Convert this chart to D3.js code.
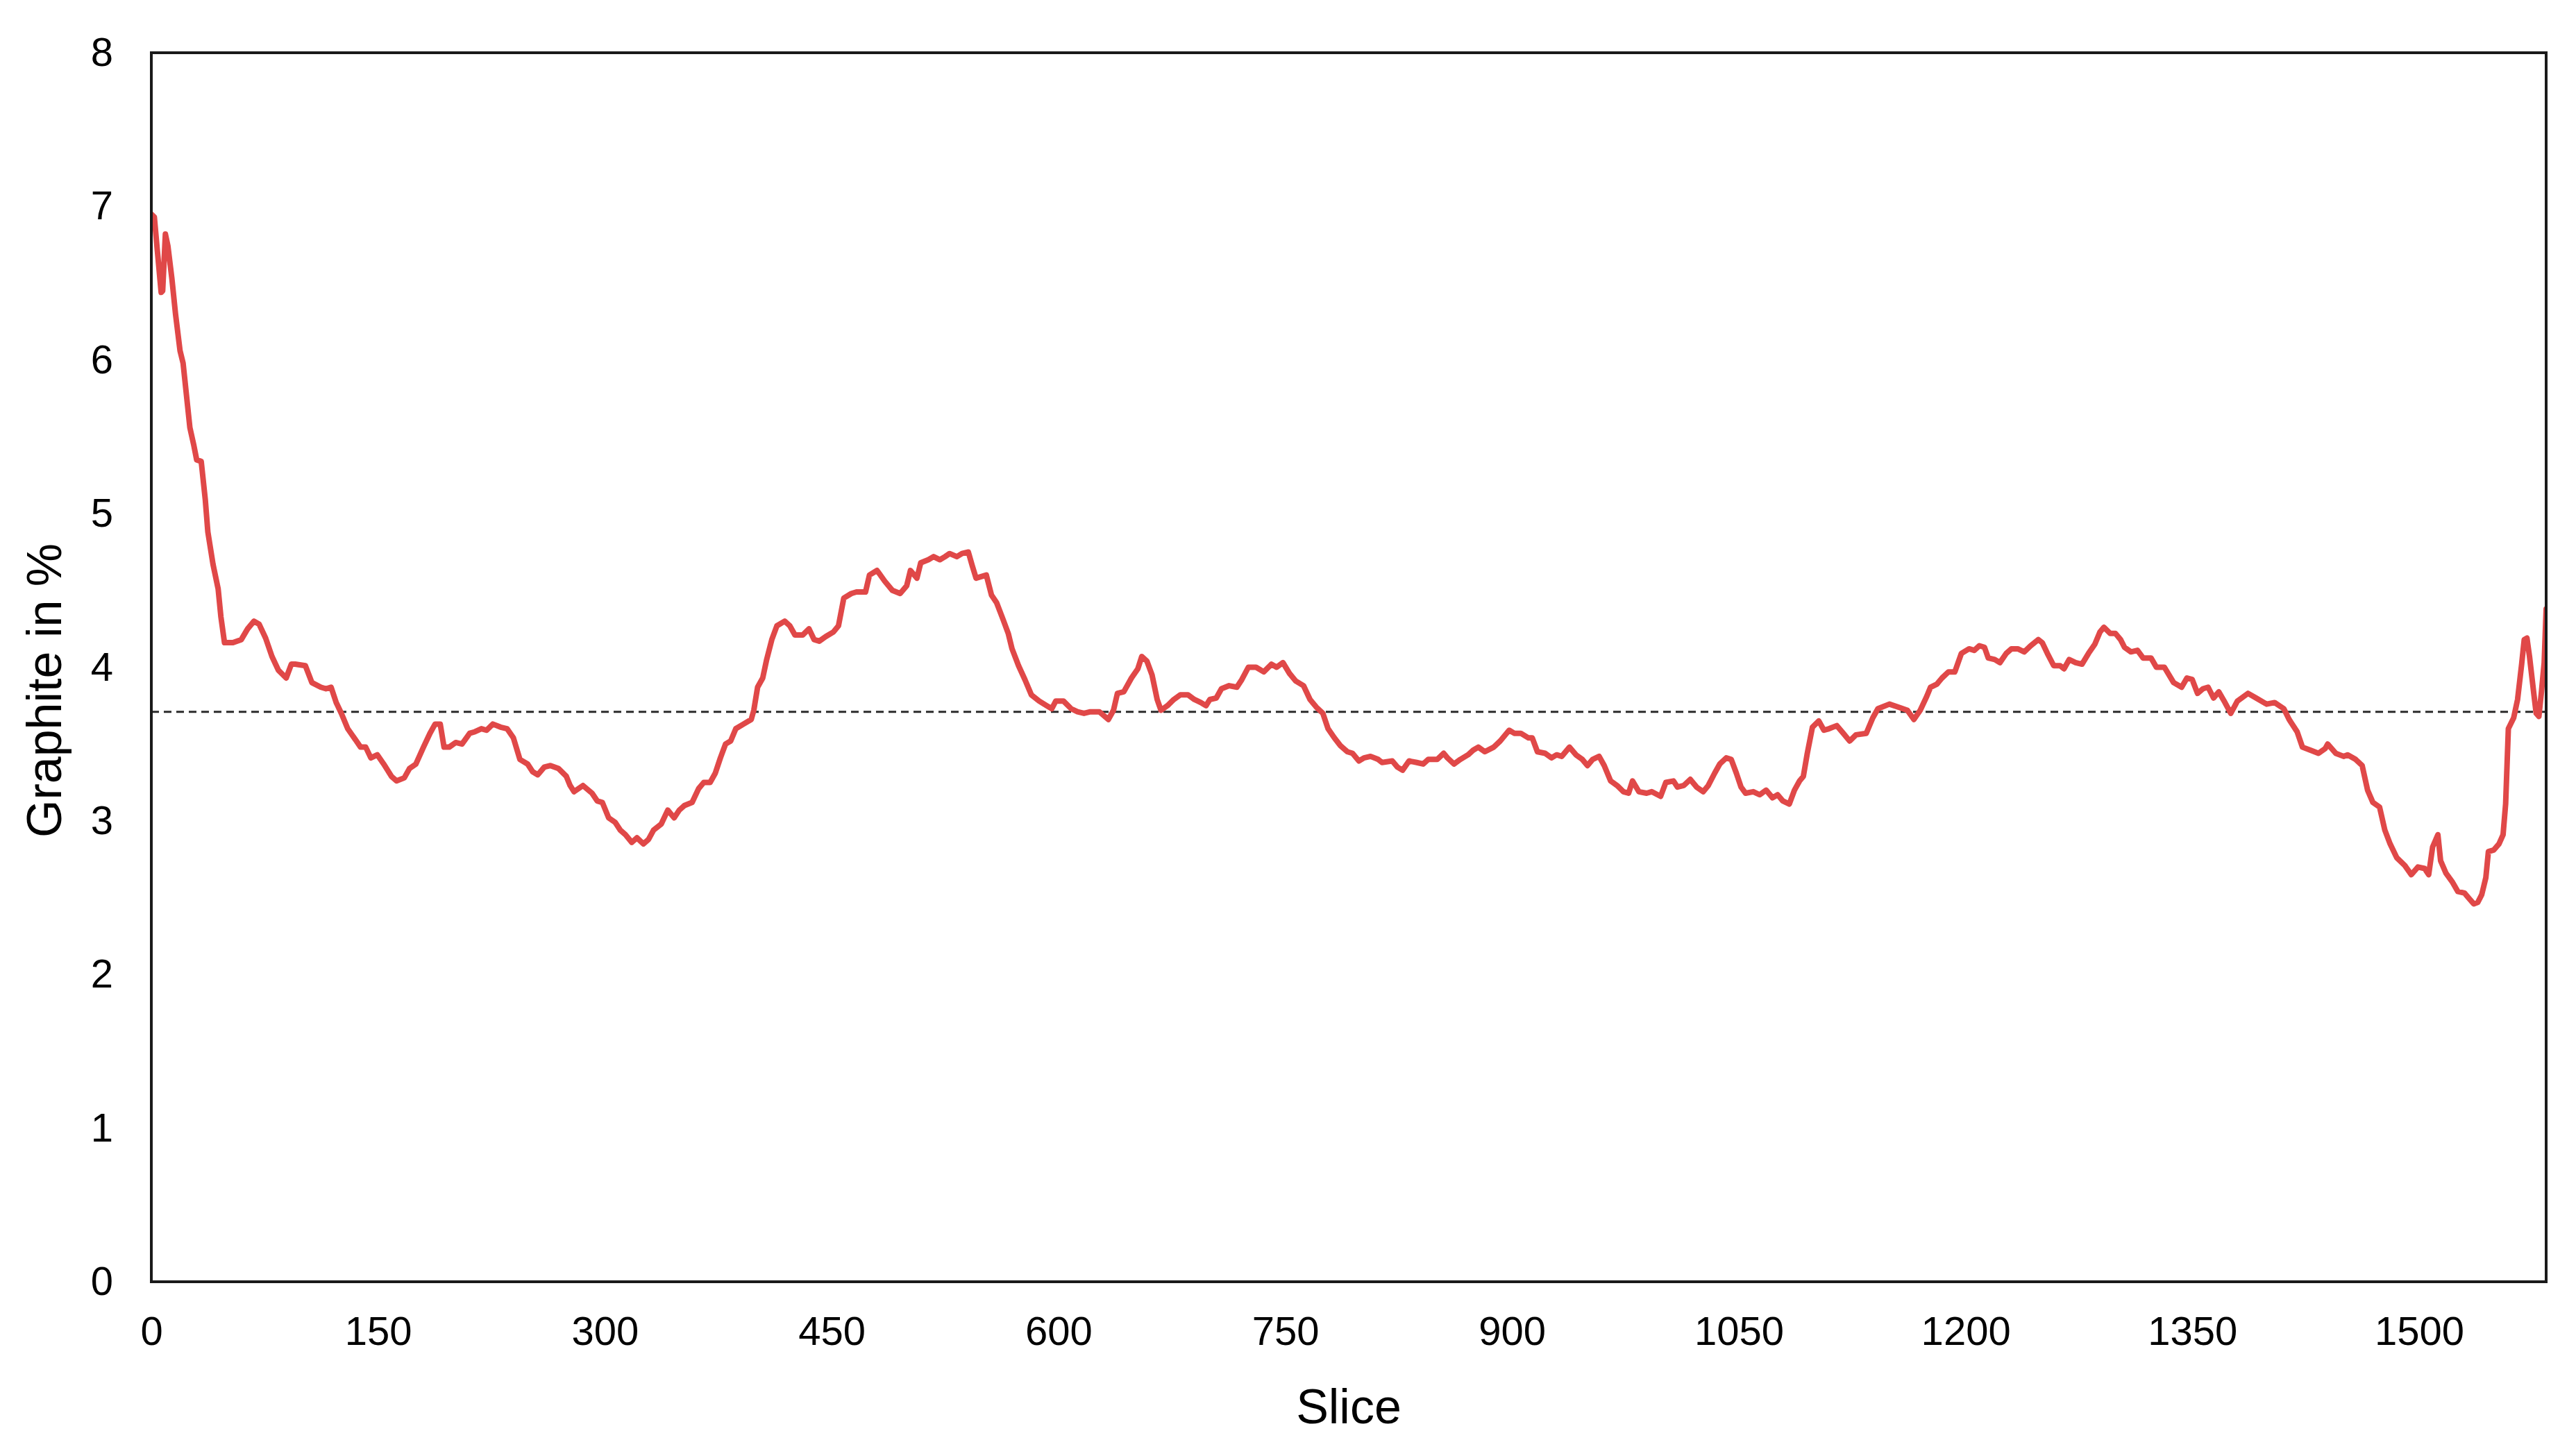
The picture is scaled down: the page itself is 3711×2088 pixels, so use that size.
<!DOCTYPE html>
<html>
<head>
<meta charset="utf-8">
<script src="https://cdn.jsdelivr.net/npm/d3@7"></script>
<style>
  html, body { margin: 0; padding: 0; background: #ffffff; }
  svg { display: block; }
</style>
</head>
<body>
<svg id="chart" width="3711" height="2088"></svg>
<script>
// ---- data ----
const slices = [
  0, 2, 4, 6.5, 7.5, 9.3, 11, 13.6, 16, 19, 21, 24, 25.5, 28, 30, 33, 35.7, 37.4, 40.8, 44.2, 46, 48.4,
  54, 59.5, 63.7, 67.9, 71.3, 75.6, 79.8, 84.1, 89.2, 92.6, 95.1, 101.9, 106.2, 112.1, 115.5, 118.9,
  122.3, 125.7, 129.9, 134.2, 138.4, 141.8, 145.2, 149.5, 153.7, 158.8, 162.2, 167.3, 170.7, 175, 180,
  184.3, 187.7, 191.1, 193.6, 197, 201.3, 205.5, 210.6, 214, 218.3, 221.7, 225.9, 231, 235.3, 239.5,
  243.8, 248.9, 252.2, 255.6, 259.9, 264, 269.4, 274.5, 277, 279.6, 285.5, 291.5, 294.9, 298.3, 302.5,
  306.8, 310.2, 313.6, 317.8, 321.2, 325.5, 328.9, 332.2, 337.3, 341.6, 345.8, 349.2, 352.6, 357.7, 362,
  365.4, 369.6, 373, 376.4, 379.8, 383.2, 386.6, 391.7, 396.8, 398.5, 401, 404.4, 407, 410.4, 413.8,
  418.9, 422.3, 425.7, 430.8, 435, 438.4, 441.8, 446.1, 451.2, 454.5, 458, 463, 466.4, 472.4, 475, 480,
  485.1, 490.2, 495.3, 499.6, 502.1, 506.4, 508.9, 514, 517.4, 521.6, 525, 528, 532.8, 536.2, 540.4, 543,
  545.5, 548.9, 552.3, 555.7, 559.1, 563.4, 566.8, 569.3, 573.6, 577.8, 582.1, 587.2, 592.2, 595.6, 598.2,
  603.3, 608.4, 612.6, 616.9, 621.1, 627.1, 633, 636.4, 639, 643.2, 648.3, 652.5, 655.1, 658.5, 661.9,
  665.3, 667.8, 672.1, 676.3, 680.6, 685.7, 689.9, 694.2, 697.6, 700.1, 704.4, 707.8, 712.9, 718, 721.3,
  725.6, 730.7, 735.8, 740.9, 744.3, 748.5, 752.8, 757, 762.1, 766.4, 770.6, 774.9, 778.3, 782.5, 786.5,
  791.1, 794.5, 798.7, 802.1, 806.4, 811.5, 814, 820.8, 824.2, 827.6, 831.9, 837, 841.2, 844.6, 850.5,
  854.8, 857.3, 861.6, 865.8, 870.9, 874.3, 877.7, 882, 887.9, 892.2, 898.1, 901.5, 905.8, 910.9, 913.4,
  916.8, 921.9, 926.1, 929.5, 932.9, 938, 942.3, 946.5, 949.9, 953.3, 957.6, 961, 965.2, 969.5, 973.7,
  977.1, 979.7, 983.9, 989, 992.4, 998.3, 1001.7, 1006.8, 1009.4, 1013.6, 1017.9, 1022.1, 1026.4, 1029.8,
  1034, 1037.4, 1041.7, 1045, 1048.4, 1051.5, 1054.5, 1059.6, 1063.8, 1068.1, 1072.3, 1075.7, 1079.1,
  1083.4, 1086.8, 1090.2, 1092.7, 1095.3, 1098.7, 1102.9, 1106.3, 1109.7, 1114.8, 1119.1, 1123.3, 1127.5,
  1134.3, 1138.6, 1142, 1149.6, 1155.6, 1161.5, 1165.8, 1170, 1174.3, 1176.8, 1181, 1184.4, 1188.7,
  1192.9, 1197.2, 1202.3, 1205.7, 1209.1, 1212.5, 1215, 1219.3, 1222.7, 1226.9, 1230.3, 1234.5, 1238.8,
  1243, 1248.1, 1250.7, 1254.1, 1258.3, 1262.6, 1265.1, 1268.5, 1272.8, 1277, 1281.3, 1285.5, 1288.9,
  1291.5, 1295.7, 1299.1, 1302.5, 1305.1, 1309.4, 1313.7, 1317.4, 1322.7, 1326.2, 1331.5, 1337.6, 1342.9,
  1346.4, 1349.9, 1353.4, 1357, 1360.4, 1364, 1367.5, 1371, 1375.4, 1379.8, 1386.8, 1392.1, 1399.1,
  1404.4, 1410.5, 1414, 1419.3, 1422.8, 1428.1, 1433.4, 1437.8, 1439.5, 1444.8, 1450, 1452.7, 1458,
  1462.3, 1465.9, 1469.4, 1473.8, 1477.3, 1480.8, 1485.2, 1490.5, 1494.8, 1499.2, 1503.6, 1506.3, 1508.9,
  1512.4, 1514.2, 1517.7, 1522.1, 1525.6, 1530, 1532.6, 1536.1, 1538.8, 1541.4, 1544.1, 1545.8, 1549.3,
  1552.8, 1555.5, 1557.2, 1559, 1562.5, 1565.1, 1567.8, 1569.5, 1571.3, 1573, 1575.7, 1577.4, 1579.2,
  1580.9, 1582.7, 1584
];
const graphite = [
  6.95, 6.93, 6.71, 6.44, 6.45, 6.82, 6.74, 6.53, 6.30, 6.06, 5.98, 5.70, 5.56, 5.45, 5.35, 5.34, 5.09, 4.88, 4.67, 4.51, 4.33, 4.16,
  4.16, 4.18, 4.25, 4.30, 4.28, 4.19, 4.07, 3.98, 3.93, 4.02, 4.02, 4.01, 3.90, 3.87, 3.86, 3.87,
  3.77, 3.70, 3.60, 3.54, 3.48, 3.48, 3.41, 3.43, 3.37, 3.29, 3.26, 3.28, 3.34, 3.37, 3.48,
  3.57, 3.63, 3.63, 3.48, 3.48, 3.51, 3.50, 3.57, 3.58, 3.60, 3.59, 3.63, 3.61, 3.60, 3.54,
  3.40, 3.37, 3.32, 3.30, 3.35, 3.36, 3.34, 3.29, 3.23, 3.19, 3.23, 3.18, 3.13, 3.12, 3.02,
  2.99, 2.94, 2.91, 2.86, 2.89, 2.85, 2.88, 2.94, 2.98, 3.07, 3.02, 3.07, 3.10, 3.12, 3.21,
  3.25, 3.25, 3.31, 3.41, 3.50, 3.52, 3.60, 3.63, 3.66, 3.72, 3.87, 3.93, 4.05, 4.18, 4.27,
  4.30, 4.27, 4.21, 4.21, 4.25, 4.18, 4.17, 4.20, 4.23, 4.27, 4.45, 4.48, 4.49, 4.49, 4.60, 4.63,
  4.56, 4.50, 4.48, 4.53, 4.63, 4.58, 4.68, 4.70, 4.72, 4.70, 4.72, 4.74, 4.72, 4.74, 4.75, 4.66,
  4.58, 4.59, 4.60, 4.47, 4.42, 4.31, 4.22, 4.12, 4.01, 3.92, 3.82, 3.78, 3.75, 3.73, 3.78,
  3.78, 3.73, 3.71, 3.70, 3.71, 3.71, 3.66, 3.72, 3.83, 3.84, 3.93, 3.99, 4.07, 4.04, 3.95,
  3.79, 3.72, 3.75, 3.79, 3.82, 3.82, 3.79, 3.77, 3.75, 3.79, 3.80, 3.86, 3.88, 3.87, 3.92,
  4.00, 4.00, 3.97, 4.02, 4.00, 4.03, 3.96, 3.91, 3.88, 3.79, 3.74, 3.70, 3.60, 3.54, 3.49,
  3.45, 3.44, 3.39, 3.41, 3.42, 3.40, 3.38, 3.39, 3.35, 3.33, 3.39, 3.38, 3.37, 3.40, 3.40,
  3.44, 3.41, 3.37, 3.40, 3.43, 3.46, 3.48, 3.45, 3.48, 3.52, 3.59, 3.57, 3.57, 3.54, 3.54,
  3.45, 3.44, 3.41, 3.43, 3.42, 3.48, 3.43, 3.40, 3.36, 3.40, 3.42, 3.36, 3.26, 3.23, 3.19,
  3.18, 3.26, 3.19, 3.18, 3.19, 3.16, 3.25, 3.26, 3.22, 3.23, 3.27, 3.22, 3.19, 3.23,
  3.31, 3.37, 3.41, 3.40, 3.31, 3.22, 3.18, 3.19, 3.17, 3.20, 3.15, 3.17, 3.13,
  3.11, 3.20, 3.26, 3.29, 3.44, 3.61, 3.65, 3.59, 3.60, 3.62, 3.57, 3.52, 3.56,
  3.57, 3.67, 3.73, 3.76, 3.74, 3.72, 3.66, 3.72, 3.81, 3.87, 3.89, 3.93, 3.97,
  3.97, 4.09, 4.12, 4.11, 4.14, 4.13, 4.06, 4.05, 4.03, 4.09, 4.12, 4.12, 4.10,
  4.14, 4.18, 4.16, 4.09, 4.01, 4.01, 3.99, 4.05, 4.03, 4.02, 4.09, 4.15, 4.23,
  4.26, 4.22, 4.22, 4.18, 4.13, 4.10, 4.11, 4.06, 4.06, 4.00, 4.00, 3.90, 3.87,
  3.93, 3.92, 3.83, 3.86, 3.87, 3.80, 3.84, 3.78, 3.70, 3.78, 3.83, 3.80, 3.76,
  3.77, 3.73, 3.66, 3.58, 3.48, 3.46, 3.44, 3.47, 3.50, 3.44, 3.42, 3.43, 3.40,
  3.36, 3.20, 3.12, 3.09, 2.94, 2.85, 2.76, 2.71, 2.65, 2.70, 2.69, 2.65, 2.83,
  2.91, 2.74, 2.66, 2.60, 2.54, 2.53, 2.50, 2.46, 2.47, 2.52, 2.63, 2.80, 2.81,
  2.85, 2.91, 3.11, 3.60, 3.67, 3.79, 4.02, 4.18, 4.19, 4.07, 3.84, 3.70, 3.68,
  3.84, 4.03, 4.38
];
const meanValue = 3.71;
const xTicks = [0, 150, 300, 450, 600, 750, 900, 1050, 1200, 1350, 1500];
const yTicks = [0, 1, 2, 3, 4, 5, 6, 7, 8];
const xDomain = [0, 1584];
const yDomain = [0, 8];

// ---- layout ----
const W = 3711, H = 2088;
const margin = { left: 218, top: 76, right: 43, bottom: 241 };
const pw = W - margin.left - margin.right;
const ph = H - margin.top - margin.bottom;
const FONT = "'Liberation Sans', Arial, Helvetica, sans-serif";

const svg = d3.select("#chart");
svg.append("rect").attr("width", W).attr("height", H).attr("fill", "#ffffff");

const g = svg.append("g").attr("transform", `translate(${margin.left},${margin.top})`);

const x = d3.scaleLinear().domain(xDomain).range([0, pw]);
const y = d3.scaleLinear().domain(yDomain).range([ph, 0]);

const data = slices.map((s, i) => ({ s, v: graphite[i] }));

g.append("defs").append("clipPath").attr("id", "plotclip")
  .append("rect").attr("x", 0).attr("y", 0).attr("width", pw).attr("height", ph);

// mean dashed line
g.append("line")
  .attr("x1", x(xDomain[0])).attr("x2", x(xDomain[1]))
  .attr("y1", y(meanValue)).attr("y2", y(meanValue))
  .attr("stroke", "#2b2b2b").attr("stroke-width", 3)
  .attr("stroke-dasharray", "11,7");

// data line
const line = d3.line().x(d => x(d.s)).y(d => y(d.v)).curve(d3.curveLinear);
g.append("path")
  .datum(data)
  .attr("clip-path", "url(#plotclip)")
  .attr("d", line)
  .attr("fill", "none")
  .attr("stroke", "#E04848")
  .attr("stroke-width", 8)
  .attr("stroke-linejoin", "round")
  .attr("stroke-linecap", "round");

// frame
g.append("rect")
  .attr("x", 0).attr("y", 0).attr("width", pw).attr("height", ph)
  .attr("fill", "none").attr("stroke", "#1a1a1a").attr("stroke-width", 4);

// axes (labels only)
const xAxis = d3.axisBottom(x).tickValues(xTicks).tickFormat(d3.format("d"))
  .tickSizeInner(0).tickSizeOuter(0).tickPadding(50);
const gx = g.append("g").attr("transform", `translate(0,${ph})`).call(xAxis);
gx.select(".domain").remove();
gx.selectAll("text").attr("font-family", FONT).attr("font-size", 58).attr("fill", "#000");

const yAxis = d3.axisLeft(y).tickValues(yTicks).tickFormat(d3.format("d"))
  .tickSizeInner(0).tickSizeOuter(0).tickPadding(55);
const gy = g.append("g").call(yAxis);
gy.select(".domain").remove();
gy.selectAll("text").attr("font-family", FONT).attr("font-size", 58).attr("fill", "#000");

// axis titles
svg.append("text")
  .attr("x", margin.left + pw / 2).attr("y", 2051)
  .attr("text-anchor", "middle")
  .attr("font-family", FONT).attr("font-size", 70).attr("fill", "#000")
  .text("Slice");

svg.append("text")
  .attr("transform", `translate(88,${995}) rotate(-90)`)
  .attr("text-anchor", "middle")
  .attr("font-family", FONT).attr("font-size", 70).attr("fill", "#000")
  .text("Graphite in %");
</script>
</body>
</html>
